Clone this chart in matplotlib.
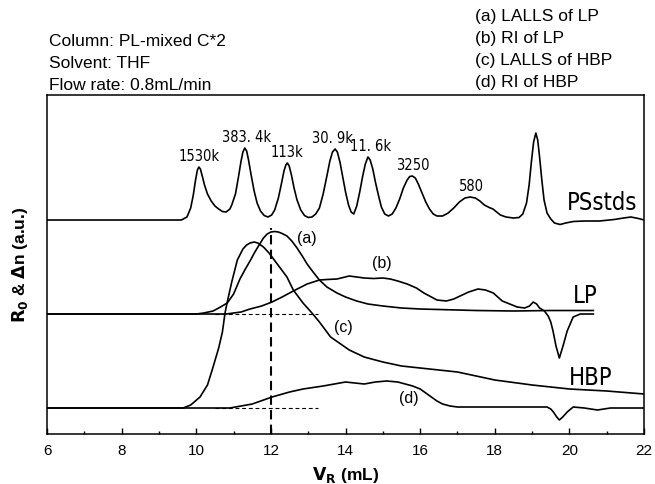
import numpy as np
import matplotlib
matplotlib.use("Agg")
import matplotlib.pyplot as plt

# elution volume (mL) and signal height above each trace's baseline (a.u.)
ps_v = [6.0, 9.6, 9.75, 9.85, 9.92, 9.98, 10.03, 10.07, 10.11, 10.16, 10.22, 10.3, 10.4, 10.5,
        10.6, 10.7, 10.8, 10.9, 10.95, 11.05, 11.13, 11.2, 11.25, 11.3, 11.35, 11.4, 11.47, 11.55,
        11.63, 11.72, 11.82, 11.92, 12.02, 12.1, 12.2, 12.28, 12.35, 12.4, 12.44, 12.49, 12.55,
        12.62, 12.7, 12.8, 12.9, 13.0, 13.1, 13.2, 13.3, 13.4, 13.5, 13.58, 13.65, 13.72, 13.78,
        13.85, 13.92, 14.0, 14.08, 14.15, 14.22, 14.3, 14.38, 14.46, 14.53, 14.6, 14.66, 14.73,
        14.8, 14.88, 14.96, 15.05, 15.15, 15.25, 15.35, 15.45, 15.55, 15.65, 15.72, 15.79, 15.87,
        15.95, 16.05, 16.15, 16.25, 16.35, 16.45, 16.6, 16.75, 16.9, 17.05, 17.2, 17.34, 17.48,
        17.6, 17.72, 17.85, 17.95, 18.05, 18.15, 18.3, 18.5, 18.65, 18.75, 18.85, 18.92, 18.98,
        19.04, 19.1, 19.15, 19.2, 19.26, 19.32, 19.4, 19.5, 19.6, 19.75, 19.9, 20.1, 20.4, 20.8,
        21.2, 21.45, 21.65, 21.85, 22.0]
ps_h = [0, 0, 0.3, 1.2, 2.5, 4.0, 5.0, 5.3, 5.1, 4.4, 3.5, 2.6, 1.9, 1.4,
        1.1, 0.85, 0.8, 1.1, 1.5, 2.6, 4.3, 5.9, 6.8, 7.2, 6.9, 6.0, 4.5, 2.9,
        1.7, 0.9, 0.45, 0.3, 0.5, 1.0, 2.2, 3.6, 4.9, 5.5, 5.7, 5.4, 4.5,
        3.2, 2.0, 1.0, 0.45, 0.25, 0.3, 0.6, 1.2, 2.6, 4.4, 5.9, 6.8, 7.1, 6.8,
        5.8, 4.4, 2.8, 1.5, 0.8, 0.6, 1.4, 2.8, 4.4, 5.6, 6.3, 6.0, 5.1,
        3.8, 2.5, 1.3, 0.6, 0.4, 0.6, 1.2, 2.1, 3.2, 4.0, 4.35, 4.4, 4.2,
        3.6, 2.7, 1.8, 1.1, 0.6, 0.4, 0.4, 0.7, 1.2, 1.8, 2.2, 2.3, 2.2,
        1.9, 1.5, 1.25, 1.1, 0.8, 0.5, 0.3, 0.2, 0.25, 0.6, 1.7, 3.5, 5.8,
        7.8, 8.7, 8.0, 6.3, 4.0, 2.0, 0.7, 0.1, -0.3, -0.45, -0.3, -0.15, -0.1, -0.1,
        0.05, 0.2, 0.3, 0.15, 0.0]

a_v = [6.0, 10.0, 10.2, 10.45, 10.65, 10.83, 11.0, 11.17, 11.3, 11.44, 11.57, 11.7, 11.8, 11.9,
       12.0, 12.1, 12.2, 12.3, 12.43, 12.56, 12.7, 12.84, 12.97, 13.13, 13.3, 13.5, 13.77, 14.0,
       14.3, 14.6, 15.0, 15.5, 16.0, 16.5, 17.5, 18.5, 19.5, 20.64]
a_h = [0, 0, 0.1, 0.3, 0.7, 1.1, 2.0, 3.5, 4.4, 5.3, 6.2, 7.0, 7.6, 8.0,
       8.2, 8.25, 8.2, 8.05, 7.8, 7.3, 6.6, 5.8, 5.0, 4.2, 3.4, 2.7, 2.1, 1.7,
       1.3, 1.0, 0.8, 0.6, 0.5, 0.45, 0.35, 0.3, 0.35, 0.35]

b_v = [6.0, 10.8, 11.2, 11.44, 11.75, 12.03, 12.3, 12.6, 12.97, 13.3, 13.5, 13.77, 14.1, 14.3,
       14.5, 14.75, 15.0, 15.2, 15.4, 15.65, 15.9, 16.1, 16.3, 16.45, 16.7, 16.9, 17.07, 17.3,
       17.55, 17.75, 17.96, 18.2, 18.4, 18.6, 18.8, 18.93, 19.03, 19.12, 19.2, 19.33, 19.43,
       19.5, 19.56, 19.64, 19.73, 19.82, 19.94, 20.1, 20.29, 20.64]
b_h = [0, 0, 0.2, 0.5, 0.8, 1.2, 1.7, 2.3, 3.0, 3.4, 3.45, 3.5, 3.8, 3.7,
       3.6, 3.55, 3.6, 3.5, 3.3, 3.0, 2.6, 2.1, 1.7, 1.4, 1.3, 1.5, 1.8, 2.2,
       2.5, 2.4, 2.1, 1.3, 1.0, 0.7, 0.6, 0.8, 1.2, 1.0, 0.6, 0.3, -0.2,
       -0.8, -1.7, -3.2, -4.4, -3.3, -1.7, -0.3, 0, 0]

c_v = [6.0, 9.65, 9.85, 10.1, 10.3, 10.45, 10.6, 10.7, 10.77, 10.83, 10.95, 11.1, 11.25, 11.35,
       11.44, 11.55, 11.65, 11.8, 11.95, 12.09, 12.25, 12.43, 12.6, 12.86, 13.1, 13.3, 13.6, 14.1,
       14.5, 15.0, 15.5, 16.0, 17.0, 18.0, 19.0, 20.0, 21.0, 22.0]
c_h = [0, 0, 0.3, 1.1, 2.3, 4.1, 6.0, 7.6, 9.5, 10.6, 12.6, 14.8, 15.9, 16.3,
       16.5, 16.6, 16.5, 16.1, 15.5, 14.8, 14.0, 13.1, 11.8, 10.5, 9.5, 8.6, 7.1, 5.8,
       5.1, 4.6, 4.2, 4.0, 3.6, 2.8, 2.3, 1.9, 1.7, 1.4]

d_v = [6.0, 10.9, 11.5, 12.03, 12.5, 12.86, 13.4, 14.0, 14.25, 14.5, 14.8, 15.1, 15.4, 15.8,
       16.0, 16.15, 16.3, 16.45, 16.6, 16.8, 17.0, 18.1, 19.4, 19.5, 19.57, 19.66, 19.73, 19.82,
       19.94, 20.1, 20.4, 20.75, 21.1, 22.0]
d_h = [0, 0, 0.4, 1.1, 1.6, 1.9, 2.2, 2.6, 2.5, 2.4, 2.6, 2.7, 2.6, 2.2,
       1.9, 1.5, 1.1, 0.7, 0.4, 0.2, 0.1, 0.1, 0.1, -0.1, -0.4, -0.9, -1.2, -0.9,
       -0.4, 0.1, 0.0, -0.2, 0, 0]

# baselines of the three stacked traces
offsets = {"PSstds": 21.4, "LP": 12.0, "HBP": 2.6}

# polystyrene standards: label, peak volume, peak height
std_labels = ["1530k", "383. 4k", "113k", "30. 9k", "11. 6k", "3250", "580"]
std_v = [10.07, 11.34, 12.44, 13.66, 14.66, 15.79, 17.38]
std_h = [5.3, 7.2, 5.7, 7.1, 6.3, 4.4, 2.3]

v_ref = 12.0
v_ref_top = 20.6
dash_range = (10.5, 13.25)

plt.rcParams["font.family"] = ["Liberation Sans", "DejaVu Sans"]
narrow = dict(family="DejaVu Sans", fontstretch="condensed")

fig = plt.figure(figsize=(6.55, 4.84), dpi=100)
ax = fig.add_axes([0.0718, 0.1033, 0.9115, 0.7004])

lw = 1.2
ax.plot(ps_v, np.array(ps_h) + offsets["PSstds"], color="black", lw=lw)
ax.plot(a_v, np.array(a_h) + offsets["LP"], color="black", lw=lw)
ax.plot(b_v, np.array(b_h) + offsets["LP"], color="black", lw=lw)
ax.plot(c_v, np.array(c_h) + offsets["HBP"], color="black", lw=lw)
ax.plot(d_v, np.array(d_h) + offsets["HBP"], color="black", lw=lw)

ax.plot([v_ref, v_ref], [0, v_ref_top], color="black", lw=1.5, dashes=(4.5, 2.5))
for key in ["LP", "HBP"]:
    ax.plot(dash_range, [offsets[key], offsets[key]], color="black", lw=0.8, dashes=(3.5, 2.5))

for lab, v, h in zip(std_labels, std_v, std_h):
    ax.text(v, h + offsets["PSstds"] + 0.3, lab, ha="center", va="bottom",
            fontsize=10.5, **narrow)

ax.text(20.88, 23.1, "PSstds", ha="center", va="center", fontsize=17, **narrow)
ax.text(20.42, 13.8, "LP", ha="center", va="center", fontsize=17, **narrow)
ax.text(20.56, 5.6, "HBP", ha="center", va="center", fontsize=17, **narrow)

ax.text(12.97, 19.6, "(a)", ha="center", va="center", fontsize=11.5)
ax.text(14.98, 17.1, "(b)", ha="center", va="center", fontsize=11.5)
ax.text(13.94, 10.7, "(c)", ha="center", va="center", fontsize=11.5)
ax.text(15.70, 3.6, "(d)", ha="center", va="center", fontsize=11.5)

left_notes = ["Column: PL-mixed C*2", "Solvent: THF", "Flow rate: 0.8mL/min"]
right_notes = ["(a) LALLS of LP", "(b) RI of LP", "(c) LALLS of HBP", "(d) RI of HBP"]
for i, s in enumerate(left_notes):
    fig.text(49 / 655, 1 - (42 + 21.7 * i) / 484, s, ha="left", va="center", fontsize=12.5)
for i, s in enumerate(right_notes):
    fig.text(475 / 655, 1 - (17 + 21.7 * i) / 484, s, ha="left", va="center", fontsize=12.5)

ax.set_xlim(6, 22)
ax.set_ylim(0, 33.9)
ax.set_xticks(np.arange(6, 23, 2))
ax.set_xticks(np.arange(6, 23, 1), minor=True)
ax.set_yticks([])
ax.tick_params(axis="x", which="major", direction="in", length=4, width=1, labelsize=11, pad=7)
ax.tick_params(axis="x", which="minor", direction="in", length=2.5, width=1)
for sp in ax.spines.values():
    sp.set_linewidth(1.1)

ax.set_xlabel(r"$\mathbf{V_R}$ (mL)", fontsize=12.5, fontweight="bold", labelpad=5)
ax.set_ylabel(r"$\mathbf{R_0}$ & $\mathbf{\Delta}$n (a.u.)", fontsize=12.5, fontweight="bold", labelpad=12)

fig.savefig("out.png", dpi=100)
